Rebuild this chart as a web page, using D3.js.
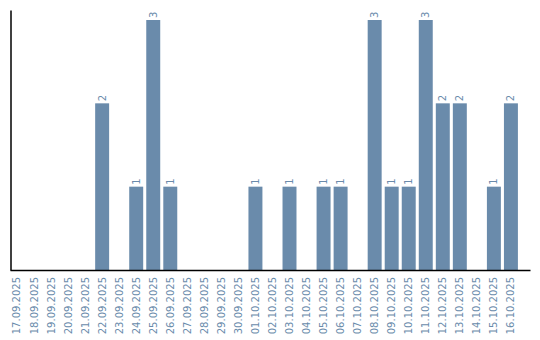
<!DOCTYPE html>
<html>
<head>
<meta charset="utf-8">
<script src="https://cdn.jsdelivr.net/npm/d3@7"></script>
<style>
  body { margin: 0; background: #fff; }
  text { font-family: "DejaVu Sans", sans-serif; }
</style>
</head>
<body>
<svg id="chart" width="540" height="340"></svg>
<script>
// dates shown on the x axis
const dates = [
  '17.09.2025', '18.09.2025', '19.09.2025', '20.09.2025', '21.09.2025',
  '22.09.2025', '23.09.2025', '24.09.2025', '25.09.2025', '26.09.2025',
  '27.09.2025', '28.09.2025', '29.09.2025', '30.09.2025', '01.10.2025',
  '02.10.2025', '03.10.2025', '04.10.2025', '05.10.2025', '06.10.2025',
  '07.10.2025', '08.10.2025', '09.10.2025', '10.10.2025', '11.10.2025',
  '12.10.2025', '13.10.2025', '14.10.2025', '15.10.2025', '16.10.2025'
];
// count per day
const counts = [
  0, 0, 0, 0, 0,
  2, 0, 1, 3, 1,
  0, 0, 0, 0, 1,
  0, 1, 0, 1, 1,
  0, 3, 1, 1, 3,
  2, 2, 0, 1, 2
];

const svg = d3.select('#chart');
const margin = { top: 10, right: 10, bottom: 70, left: 10.5 };
const width = +svg.attr('width');
const height = +svg.attr('height');
const barColour = '#6a8bab';
const textColour = '#6a8bab';

const data = dates.map((d, i) => ({ date: d, value: counts[i] }));

const x = d3.scaleBand()
  .domain(dates)
  .range([margin.left - 0.5, width - margin.right])
  .paddingInner(0.18)
  .paddingOuter(0.355)
  .align(0);

const y = d3.scaleLinear()
  .domain([0, d3.max(counts) * 1.04])
  .range([height - margin.bottom, margin.top]);

// bars (skip empty days)
svg.append('g')
  .selectAll('rect')
  .data(data.filter(d => d.value > 0))
  .enter().append('rect')
    .attr('x', d => x(d.date))
    .attr('y', d => y(d.value))
    .attr('width', x.bandwidth())
    .attr('height', d => y(0) - y(d.value))
    .attr('fill', barColour);

// value labels, rotated like the axis labels
svg.append('g')
  .selectAll('text')
  .data(data.filter(d => d.value > 0))
  .enter().append('text')
    .attr('transform', d => `translate(${x(d.date) + x.bandwidth() / 2 + 3.5},${y(d.value) - 2}) rotate(-90)`)
    .attr('text-anchor', 'start')
    .style('font-size', '10px')
    .style('fill', textColour)
    .text(d => d.value);

// x axis
const xAxis = svg.append('g')
  .attr('transform', `translate(0,${height - margin.bottom})`)
  .call(d3.axisBottom(x).tickSize(0).tickSizeOuter(0));
xAxis.select('.domain').attr('stroke', '#000').attr('stroke-width', 1.5);
xAxis.selectAll('text')
  .attr('transform', 'rotate(-90)')
  .attr('text-anchor', 'end')
  .attr('x', -7)
  .attr('y', 0)
  .attr('dy', '0.35em')
  .style('font-family', '"DejaVu Sans", sans-serif')
  .style('font-size', '10px')
  .style('fill', textColour);

// y axis: plain line only
const yAxis = svg.append('g')
  .attr('transform', `translate(${margin.left},0)`)
  .call(d3.axisLeft(y).ticks(0).tickSize(0).tickSizeOuter(0));
yAxis.select('.domain').attr('stroke', '#000').attr('stroke-width', 1.5);
yAxis.selectAll('text').remove();
</script>
</body>
</html>
